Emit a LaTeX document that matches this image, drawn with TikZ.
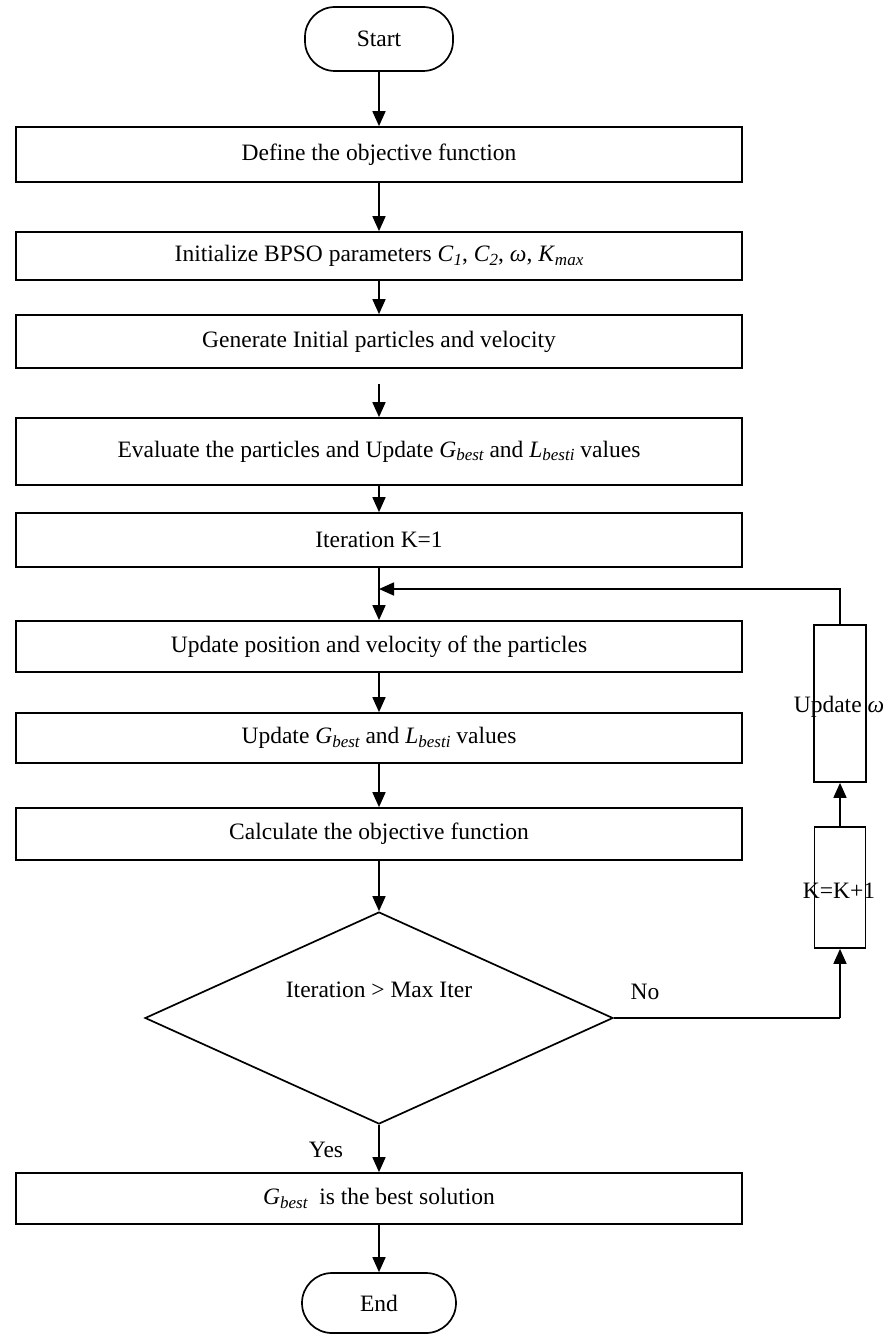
\documentclass[tikz,border=0pt]{standalone}
\usepackage{fontspec}
\setmainfont{Liberation Serif}
\usetikzlibrary{arrows.meta,shapes.geometric}
\newcommand{\mvar}[2]{\textit{#1}\raisebox{-0.35ex}{\fontsize{17}{17}\selectfont\itshape #2}}
\tikzset{
  every node/.style={font=\fontsize{23.5}{27}\selectfont},
  flow/.style={line width=1.7pt},
  arr/.style={flow,-{Triangle[length=15pt,width=13pt]}},
  procbox/.style={draw,line width=1.7pt,rectangle,minimum width=726pt,inner sep=0pt},
  termbox/.style={draw,line width=1.7pt,rectangle,rounded corners=30pt,inner sep=0pt},
  sidebox/.style={draw,line width=1.7pt,rectangle,inner sep=0pt},
  decbox/.style={draw,line width=1.7pt,diamond,inner sep=0pt,minimum width=468pt,minimum height=212pt},
  plain/.style={inner sep=0pt}
}
\begin{document}
\begin{tikzpicture}[x=1pt,y=-1pt]
\useasboundingbox (0,0) rectangle (887,1335);
\node[termbox,minimum width=148pt,minimum height=64pt] (start) at (379,39) {Start};
\node[procbox,minimum height=55pt] (b1) at (379,154.5) {Define the objective function};
\node[procbox,minimum height=48pt] (b2) at (379,256) {Initialize BPSO parameters \mvar{C}{1}, \mvar{C}{2}, \textit{ω}, \mvar{K}{max}};
\node[procbox,minimum height=53pt] (b3) at (379,341.5) {Generate Initial particles and velocity};
\node[procbox,minimum height=67pt] (b4) at (379,451.5) {Evaluate the particles and Update \mvar{G}{best} and \mvar{L}{besti} values};
\node[procbox,minimum height=54pt] (b5) at (379,540) {Iteration K=1};
\node[procbox,minimum height=51pt] (b6) at (379,646.5) {Update position and velocity of the particles};
\node[procbox,minimum height=50pt] (b7) at (379,738) {Update \mvar{G}{best} and \mvar{L}{besti} values};
\node[procbox,minimum height=52pt] (b8) at (379,834) {Calculate the objective function};
\node[decbox,label={[plain,yshift=28pt]center:Iteration > Max Iter}] (dec) at (379,1018) {};
\node[procbox,minimum height=51pt] (b9) at (379,1198.5) {\mvar{G}{best}\ \ is the best solution};
\node[termbox,minimum width=154pt,minimum height=60pt] (end) at (379,1303) {End};
\node[sidebox,minimum width=52pt,minimum height=157pt] (upw) at (840,703.5) {};
\node[plain] (upwt) at (839,707) {Update \textit{ω}};
\node[sidebox,minimum width=51pt,minimum height=121pt] (kk) at (840,887.5) {};
\node[plain] (kkt) at (839,891) {K=K+1};
\node[plain] (no) at (645,992) {No};
\node[plain] (yes) at (326,1150) {Yes};
\coordinate (g3) at (379,384);
\coordinate (join) at (379,589);
\coordinate (topr) at (840,589);
\coordinate (botr) at (840,1018);

\draw[arr] (start) -- (b1);
\draw[arr] (b1) -- (b2);
\draw[arr] (b2) -- (b3);
\draw[arr] (g3) -- (b4);
\draw[arr] (b4) -- (b5);
\draw[arr] (b5) -- (b6);
\draw[arr] (b6) -- (b7);
\draw[arr] (b7) -- (b8);
\draw[arr] (b8) -- (dec);
\draw[arr] (dec) -- (b9);
\draw[arr] (b9) -- (end);
\draw[flow] (dec.east) -- (botr);
\draw[arr] (botr) -- (kk);
\draw[arr] (kk) -- (upw);
\draw[arr] (upw) -- (topr) -- (join);
\end{tikzpicture}
\end{document}
